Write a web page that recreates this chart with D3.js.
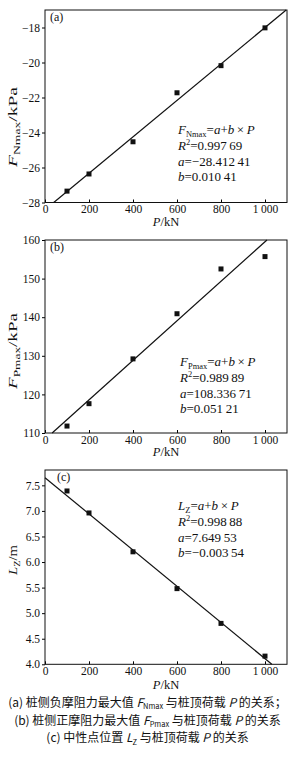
<!DOCTYPE html>
<html>
<head>
<meta charset="utf-8">
<script src="https://cdn.jsdelivr.net/npm/d3@7"></script>
<style>
  html, body { margin: 0; padding: 0; background: #fff; }
  svg text { font-family: "Liberation Serif", "DejaVu Serif", serif; fill: #111; }
  .cap { font-family: "Noto Sans CJK SC", sans-serif; }
</style>
</head>
<body>
<svg id="chart" width="295" height="764"></svg>
<script>
// P values (kN), shared by all three panels
const loads = [100, 200, 400, 600, 800, 1000];
const fNmax = [-27.35, -26.37, -24.53, -21.73, -20.18, -18.02];
const fPmax = [111.8, 117.6, 129.2, 140.9, 152.5, 155.7];
const lZ = [7.39, 6.96, 6.2, 5.48, 4.8, 4.16];

// linear fit y = a + b*P
const fitNmax = [-28.41241, 0.01041];
const fitPmax = [108.33671, 0.05121];
const fitLZ = [7.64953, -0.00354];

const xTicks = [0, 200, 400, 600, 800, 1000];
const xTickLabels = ['0', '200', '400', '600', '800', '1\u2009000'];
const yTicksA = [-28, -26, -24, -22, -20, -18];
const yTicksB = [110, 120, 130, 140, 150, 160];
const yTicksC = [4.0, 4.5, 5.0, 5.5, 6.0, 6.5, 7.0, 7.5];

const svg = d3.select('#chart');
svg.append('rect').attr('width', 295).attr('height', 764).attr('fill', '#fff');

const X0 = 45, X1 = 287;

// text built from pieces: [string, style] with style in '', 'i', 'sub', 'sup'
function rich(g, parts, size, subScale = 0.62) {
    const t = g.append('text').attr('font-size', size);
    let shift = 0;
    parts.forEach(([s, st]) => {
        const sp = t.append('tspan').text(s);
        let want = 0;
        if (st === 'i') sp.attr('font-style', 'italic');
        if (st === 'sub') { sp.attr('font-size', size * subScale); want = size * 0.2; }
        if (st === 'sup') { sp.attr('font-size', size * subScale); want = -size * 0.34; }
        if (want !== shift) sp.attr('dy', want - shift);
        shift = want;
    });
    return t;
}

function panel(cfg) {
    const x = d3.scaleLinear().domain([0, 1100]).range([X0, X1]);
    const y = d3.scaleLinear().domain(cfg.yDomain).range([cfg.bottom, cfg.top]);
    const g = svg.append('g');

    // x axis, ticks pointing inside
    const ax = g.append('g')
        .attr('transform', `translate(0,${cfg.bottom})`)
        .call(d3.axisBottom(x).tickValues(xTicks)
            .tickFormat((d, i) => xTickLabels[i])
            .tickSizeInner(-3).tickSizeOuter(0).tickPadding(2.5));
    ax.select('.domain').remove();
    ax.selectAll('text').attr('font-size', 11.5).attr('fill', '#111');

    const ay = g.append('g')
        .attr('transform', `translate(${X0},0)`)
        .call(d3.axisLeft(y).tickValues(cfg.yTicks)
            .tickFormat(cfg.yFormat).tickSizeInner(3).tickSizeOuter(0).tickPadding(2));
    ay.select('.domain').remove();
    ay.selectAll('text').attr('font-size', 11.5).attr('fill', '#111');

    g.append('rect')
        .attr('x', X0).attr('y', cfg.top)
        .attr('width', X1 - X0).attr('height', cfg.bottom - cfg.top)
        .attr('fill', 'none').attr('stroke', '#111').attr('stroke-width', 1);

    // fit line clipped to the plot box
    const [a, b] = cfg.fit;
    const [ylo, yhi] = cfg.yDomain;
    const xs = [0, 1100, (ylo - a) / b, (yhi - a) / b]
        .filter(v => v >= 0 && v <= 1100)
        .filter(v => { const yy = a + b * v; return yy >= ylo - 1e-9 && yy <= yhi + 1e-9; });
    const xa = d3.min(xs), xb = d3.max(xs);
    g.append('line')
        .attr('x1', x(xa)).attr('y1', y(a + b * xa))
        .attr('x2', x(xb)).attr('y2', y(a + b * xb))
        .attr('stroke', '#111').attr('stroke-width', 1.2);

    g.selectAll('rect.pt').data(cfg.values).join('rect')
        .attr('class', 'pt')
        .attr('x', (d, i) => x(loads[i]) - 2.5)
        .attr('y', d => y(d) - 2.5)
        .attr('width', 5).attr('height', 5)
        .attr('fill', '#111');

    g.append('text').attr('x', cfg.tagX).attr('y', cfg.top + 11)
        .attr('font-size', 12).text(cfg.tag);

    // y label, drawn long along the axis as in the original figure
    rich(g, cfg.yLabel, 13, 0.7)
        .attr('text-anchor', 'middle')
        .attr('textLength', cfg.yLabelLen)
        .attr('lengthAdjust', 'spacingAndGlyphs')
        .attr('transform', `translate(17,${cfg.yLabelY}) rotate(-90)`);

    g.append('text').attr('x', (X0 + X1) / 2).attr('y', cfg.bottom + cfg.xLabelDy)
        .attr('text-anchor', 'middle').attr('font-size', 12.5)
        .call(t => {
            t.append('tspan').attr('font-style', 'italic').text('P');
            t.append('tspan').text('/kN');
        });

    cfg.notes.forEach((parts, i) => {
        rich(g, parts, 13, 0.65)
            .attr('x', cfg.noteX).attr('y', cfg.noteY + i * 15.8);
    });
}

const minus = v => String(v).replace('-', '\u2212');
const eq = (v, s) => [[v, 'i'], [s, 'sub'], ['=', ''], ['a', 'i'], ['+', ''], ['b', 'i'], ['\u2009\u00d7\u2009', ''], ['P', 'i']];

panel({
    top: 10, bottom: 202.5, yDomain: [-28, -17], yTicks: yTicksA,
    yFormat: d => minus(d), values: fNmax, fit: fitNmax, tag: '(a)', tagX: 50,
    yLabel: [['F', 'i'], ['Nmax', 'sub'], ['/kPa', '']], yLabelY: 127, yLabelLen: 80,
    xLabelDy: 23,
    noteX: 178, noteY: 134,
    notes: [
        eq('F', 'Nmax'),
        [['R', 'i'], ['2', 'sup'], ['=0.997\u200969', '']],
        [['a', 'i'], ['=\u221228.412\u200941', '']],
        [['b', 'i'], ['=0.010\u200941', '']]
    ]
});

panel({
    top: 240, bottom: 433, yDomain: [110, 160], yTicks: yTicksB,
    yFormat: d => d, values: fPmax, fit: fitPmax, tag: '(b)', tagX: 50,
    yLabel: [['F', 'i'], ['Pmax', 'sub'], ['/kPa', '']], yLabelY: 351, yLabelLen: 76,
    xLabelDy: 23,
    noteX: 180, noteY: 366,
    notes: [
        eq('F', 'Pmax'),
        [['R', 'i'], ['2', 'sup'], ['=0.989\u200989', '']],
        [['a', 'i'], ['=108.336\u200971', '']],
        [['b', 'i'], ['=0.051\u200921', '']]
    ]
});

panel({
    top: 470, bottom: 664.3, yDomain: [4.0, 7.8], yTicks: yTicksC,
    yFormat: d3.format('.1f'), values: lZ, fit: fitLZ, tag: '(c)', tagX: 57,
    yLabel: [['L', 'i'], ['Z', 'sub'], ['/m', '']], yLabelY: 560, yLabelLen: 30,
    xLabelDy: 25,
    noteX: 178, noteY: 510,
    notes: [
        eq('L', 'Z'),
        [['R', 'i'], ['2', 'sup'], ['=0.998\u200988', '']],
        [['a', 'i'], ['=7.649\u200953', '']],
        [['b', 'i'], ['=\u22120.003\u200954', '']]
    ]
});

// figure captions
const captions = [
    [['(a) 桩侧负摩阻力最大值 ', ''], ['F', 'i'], ['Nmax', 'sub'], [' 与桩顶荷载 ', ''], ['P', 'i'], [' 的关系；', '']],
    [['(b) 桩侧正摩阻力最大值 ', ''], ['F', 'i'], ['Pmax', 'sub'], [' 与桩顶荷载 ', ''], ['P', 'i'], [' 的关系', '']],
    [['(c) 中性点位置 ', ''], ['L', 'i'], ['Z', 'sub'], [' 与桩顶荷载 ', ''], ['P', 'i'], [' 的关系', '']]
];
captions.forEach((parts, i) => {
    rich(svg, parts, 12)
        .attr('class', 'cap')
        .attr('x', 147.5).attr('y', 707 + i * 17.6)
        .attr('text-anchor', 'middle');
});
</script>
</body>
</html>
